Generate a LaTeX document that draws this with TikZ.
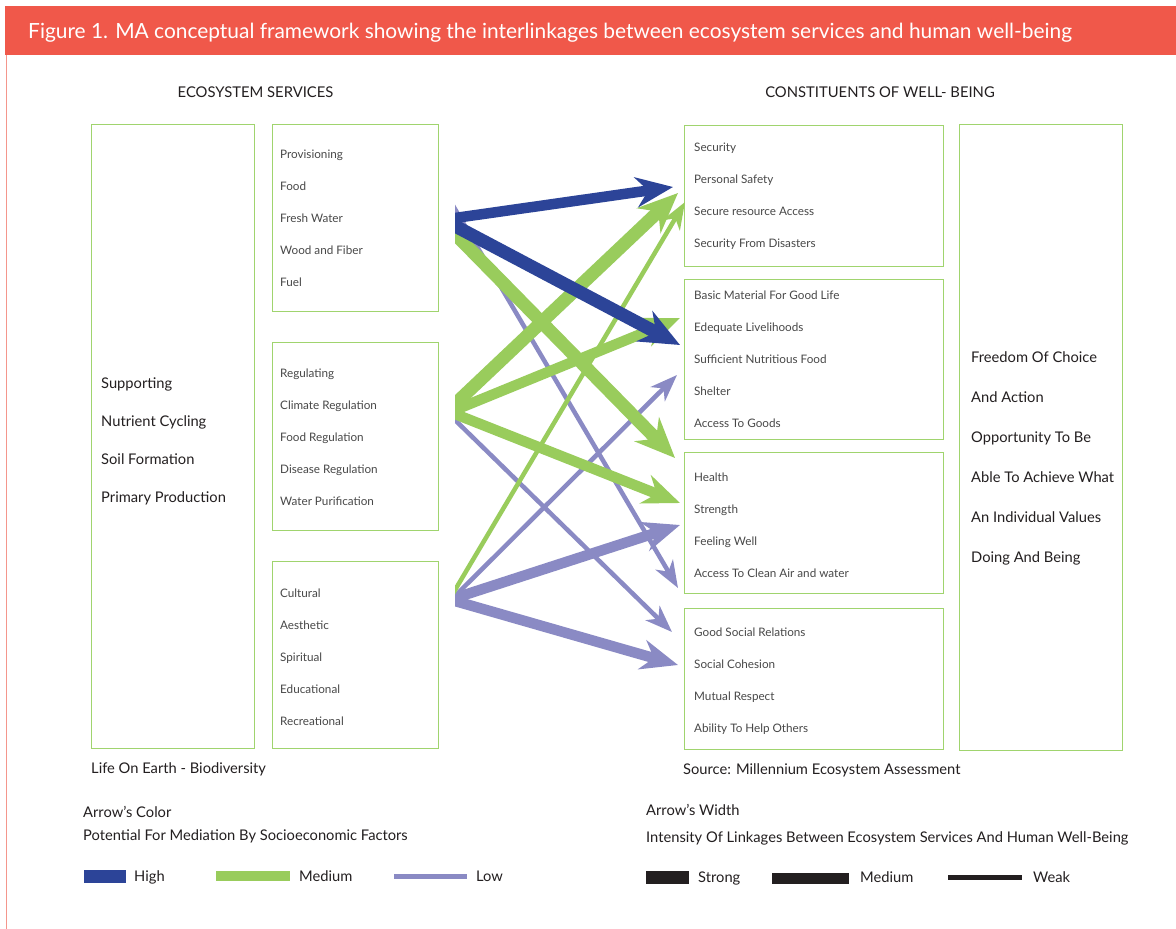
\documentclass[tikz,border=0pt]{standalone}
\usepackage{fontspec}
\setmainfont{Lato}
\usetikzlibrary{arrows.meta}
\definecolor{titlered}{RGB}{240,88,74}
\definecolor{edgepink}{RGB}{244,150,140}
\definecolor{boxgreen}{RGB}{160,212,110}
\definecolor{abblue}{RGB}{44,68,152}
\definecolor{abgreen}{RGB}{153,204,92}
\definecolor{abpurple}{RGB}{138,138,196}
\definecolor{txtgrey}{RGB}{72,72,72}
\definecolor{txtdark}{RGB}{35,31,32}
\begin{document}
\begin{tikzpicture}[x=1pt,y=-1pt,
  box/.style={draw=boxgreen, line width=1.4pt, anchor=north west, inner sep=0pt},
  small/.style={anchor=base west, inner sep=0pt, text=txtgrey, font=\fontsize{11.7}{13}\selectfont},
  big/.style={anchor=base west, inner sep=0pt, text=txtdark, font=\fontsize{14.7}{17}\selectfont},
  head/.style={anchor=base, inner sep=0pt, text=txtdark, font=\fontsize{14.8}{17}\selectfont},
  leg/.style={anchor=base west, inner sep=0pt, text=txtdark, font=\fontsize{14.7}{17}\selectfont},
  strongA/.style={line width=13pt, shorten <=-14pt, -{Stealth[length=40pt,width=34pt,inset=13pt]}},
  medA/.style={line width=10.5pt, shorten <=-14pt, -{Stealth[length=37pt,width=30pt,inset=12pt]}},
  weakA/.style={line width=4.5pt, shorten <=-14pt, -{Stealth[length=27pt,width=20pt,inset=8pt]}}
]
\useasboundingbox (0,0) rectangle (1176,929);
\fill[white] (0,0) rectangle (1176,929);
% title bar
\fill[titlered] (5,6) rectangle (1176,55);
\node[anchor=base west, inner sep=0pt, text=white, font=\fontsize{20.9}{25}\selectfont] (title) at (28,38)
  {Figure 1. MA conceptual framework showing the interlinkages between ecosystem services and human well-being};
\draw[edgepink, line width=1.5pt] (6.5,55) -- (6.5,929);

% headers
\node[head] (hl) at (255.5,97.5) {ECOSYSTEM SERVICES};
\node[head] (hr) at (880,97.5) {CONSTITUENTS OF WELL- BEING};

% left boxes
\node[box, minimum width=163pt, minimum height=624pt] (sup) at (91,124) {};
\node[box, minimum width=166pt, minimum height=187pt] (prov) at (272,124) {};
\node[box, minimum width=166pt, minimum height=188pt] (reg) at (272,342) {};
\node[box, minimum width=166pt, minimum height=187pt] (cult) at (272,561) {};
% right boxes
\node[box, minimum width=259pt, minimum height=141pt] (sec) at (684,125) {};
\node[box, minimum width=259pt, minimum height=160pt] (bas) at (684,279) {};
\node[box, minimum width=259pt, minimum height=141pt] (hea) at (684,452) {};
\node[box, minimum width=259pt, minimum height=141pt] (soc) at (684,608) {};
\node[box, minimum width=163pt, minimum height=626pt] (free) at (959,124) {};

% box texts
\foreach \t [count=\i] in {Provisioning,Food,Fresh Water,Wood and Fiber,Fuel}
  \node[small] (pv\i) at (280,{158+32*(\i-1)}) {\t};
\foreach \t [count=\i] in {Regulating,Climate Regulation,Food Regulation,Disease Regulation,Water Purification}
  \node[small] (rg\i) at (280,{377+32*(\i-1)}) {\t};
\foreach \t [count=\i] in {Cultural,Aesthetic,Spiritual,Educational,Recreational}
  \node[small] (cu\i) at (280,{597+32*(\i-1)}) {\t};
\foreach \t [count=\i] in {Supporting,Nutrient Cycling,Soil Formation,Primary Production}
  \node[big] (su\i) at (101,{388+38*(\i-1)}) {\t};
\foreach \t [count=\i] in {Security,Personal Safety,Secure resource Access,Security From Disasters}
  \node[small] (se\i) at (694,{151+32*(\i-1)}) {\t};
\foreach \t [count=\i] in {Basic Material For Good Life,Edequate Livelihoods,Sufficient Nutritious Food,Shelter,Access To Goods}
  \node[small] (ba\i) at (694,{299+32*(\i-1)}) {\t};
\foreach \t [count=\i] in {Health,Strength,Feeling Well,Access To Clean Air and water}
  \node[small] (he\i) at (694,{481+32*(\i-1)}) {\t};
\foreach \t [count=\i] in {Good Social Relations,Social Cohesion,Mutual Respect,Ability To Help Others}
  \node[small] (so\i) at (694,{636+32*(\i-1)}) {\t};
\foreach \t [count=\i] in {Freedom Of Choice,And Action,Opportunity To Be,Able To Achieve What,An Individual Values,Doing And Being}
  \node[big] (fr\i) at (971,{362+40*(\i-1)}) {\t};

\node[leg] (life) at (91,773) {Life On Earth - Biodiversity};
\node[leg] (src) at (683,774) {Source: Millennium Ecosystem Assessment};

% arrow end points
\coordinate (sPp) at (455,209);  \coordinate (tPp) at (678,588);
\coordinate (sPb1) at (455,218); \coordinate (tPb1) at (673,187);
\coordinate (sPb2) at (455,226); \coordinate (tPb2) at (680,345);
\coordinate (sPg) at (455,234);  \coordinate (tPg) at (675,458);
\coordinate (sRg1) at (455,404); \coordinate (tRg1) at (678,193);
\coordinate (sRg2) at (455,410); \coordinate (tRg2) at (680,318);
\coordinate (sRg3) at (455,414); \coordinate (tRg3) at (680,503);
\coordinate (sRp) at (455,420);  \coordinate (tRp) at (672,632);
\coordinate (sCg) at (455,590);  \coordinate (tCg) at (685,202);
\coordinate (sCp1) at (455,596); \coordinate (tCp1) at (677,375);
\coordinate (sCp2) at (455,598); \coordinate (tCp2) at (680,525);
\coordinate (sCp3) at (455,601); \coordinate (tCp3) at (678,665);

\begin{scope}
\clip (455,0) rectangle (1176,929);
% low (purple)
\draw[weakA, abpurple] (sPp) -- (tPp);
\draw[weakA, abpurple] (sRp) -- (tRp);
\draw[weakA, abpurple] (sCp1) -- (tCp1);
\draw[medA, abpurple] (sCp2) -- (tCp2);
\draw[medA, abpurple] (sCp3) -- (tCp3);
% medium (green)
\draw[weakA, abgreen] (sCg) -- (tCg);
\draw[strongA, abgreen] (sPg) -- (tPg);
\draw[strongA, abgreen] (sRg1) -- (tRg1);
\draw[medA, abgreen] (sRg2) -- (tRg2);
\draw[medA, abgreen] (sRg3) -- (tRg3);
% high (blue)
\draw[medA, abblue] (sPb1) -- (tPb1);
\draw[strongA, abblue] (sPb2) -- (tPb2);
\end{scope}

% legend: colour
\node[leg] (lc1) at (83,817) {Arrow's Color};
\node[leg] (lc2) at (83,840) {Potential For Mediation By Socioeconomic Factors};
\fill[abblue] (84,870) rectangle (126,883);
\node[leg] (lhigh) at (134,881) {High};
\fill[abgreen] (216,871) rectangle (290,881);
\node[leg] (lmed) at (299,881) {Medium};
\fill[abpurple] (394,874) rectangle (467,879);
\node[leg] (llow) at (476,881) {Low};
% legend: width
\node[leg] (lw1) at (646,815) {Arrow's Width};
\node[leg] (lw2) at (646,842) {Intensity Of Linkages Between Ecosystem Services And Human Well-Being};
\fill[txtdark] (646,871) rectangle (689,884);
\node[leg] (lstr) at (698,882) {Strong};
\fill[txtdark] (772,873) rectangle (849,884);
\node[leg] (lmed2) at (860,882) {Medium};
\fill[txtdark] (948,875) rectangle (1022,880);
\node[leg] (lweak) at (1033,882) {Weak};
\end{tikzpicture}
\end{document}
